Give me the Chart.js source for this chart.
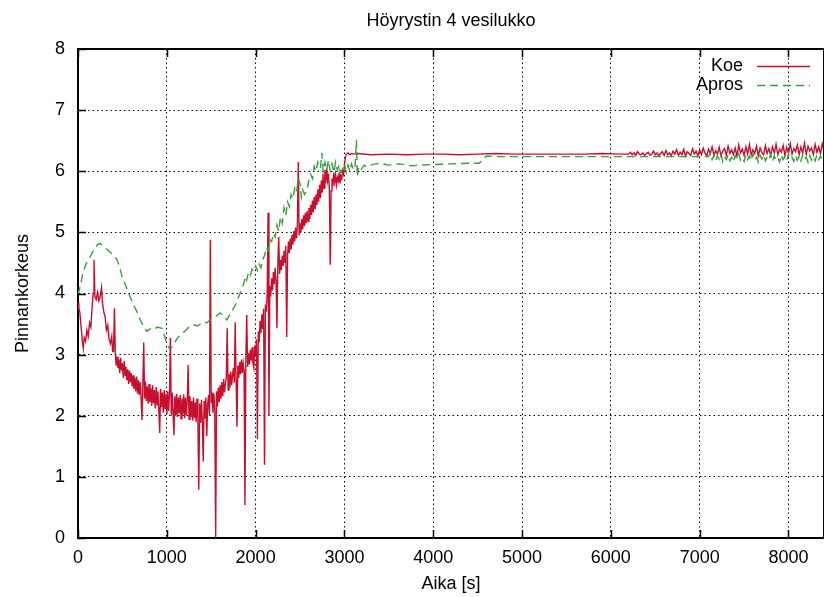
<!DOCTYPE html>
<html>
<head>
<meta charset="utf-8">
<script src="https://cdn.jsdelivr.net/npm/chart.js@4"></script>
<style>
  html, body { margin: 0; padding: 0; background: #fff; }
  #wrap { width: 824px; height: 597px; }
</style>
</head>
<body>
<div id="wrap"><canvas id="chart"></canvas></div>
<script>
const koeTime = [
  0, 10, 20, 35, 50, 60, 70, 85, 100, 115, 130, 145, 160, 170, 180, 190, 205, 220, 235, 250,
  265, 275, 290, 305, 320, 335, 350, 365, 380, 390,
  400, 410, 420, 430, 440, 450, 460, 470, 480, 490, 500, 510, 520, 530, 540, 550, 560, 570, 580, 590,
  600, 610, 620, 630, 640, 650, 660, 670, 680, 690, 700, 710, 720, 730, 740, 750, 760, 770, 780, 790,
  800, 810, 820, 830, 840, 850, 860, 870, 880, 890, 900, 910, 920, 930, 940, 950, 960, 970, 980, 990,
  1000, 1010, 1020, 1030, 1040, 1050, 1060, 1070, 1080, 1090, 1100, 1110, 1120, 1130, 1140, 1150, 1160, 1170, 1180, 1190,
  1200, 1210, 1220, 1230, 1240, 1250, 1260, 1270, 1280, 1290, 1300, 1310, 1320, 1330, 1340, 1350, 1360, 1370, 1380, 1390,
  1400, 1410, 1420, 1430, 1440, 1450, 1460, 1470, 1480, 1490, 1500, 1510, 1520, 1530, 1540, 1550, 1560, 1570, 1580, 1590,
  1600, 1610, 1620, 1630, 1640, 1650, 1660, 1670, 1680, 1690, 1700, 1710, 1720, 1730, 1740, 1750, 1760, 1770, 1780, 1790,
  1800, 1810, 1820, 1830, 1840, 1850, 1860, 1870, 1880, 1890, 1900, 1910, 1920, 1930, 1940, 1950, 1960, 1970, 1980, 1990,
  2000, 2010, 2020, 2030, 2040, 2050, 2060, 2070, 2080, 2090, 2100, 2110, 2120, 2130, 2140, 2150, 2160, 2170, 2180, 2190,
  2200, 2210, 2220, 2230, 2240, 2250, 2260, 2270, 2280, 2290, 2300, 2310, 2320, 2330, 2340, 2350, 2360, 2370, 2380, 2390,
  2400, 2410, 2420, 2430, 2440, 2450, 2460, 2470, 2480, 2490, 2500, 2510, 2520, 2530, 2540, 2550, 2560, 2570, 2580, 2590,
  2600, 2610, 2620, 2630, 2640, 2650, 2660, 2670, 2680, 2690, 2700, 2710, 2720, 2730, 2740, 2750, 2760, 2770, 2780, 2790,
  2800, 2810, 2820, 2830, 2840, 2850, 2860, 2870, 2880, 2890, 2900, 2910, 2920, 2930, 2940, 2950, 2960, 2970, 2980, 2990,
  3000, 3010, 3020, 3040, 3060, 3080, 3100, 3150, 3300, 3500, 3700, 3900, 4100, 4300, 4500, 4700, 4900, 5100, 5300, 5500,
  5700, 5900, 6100,
  6200, 6220, 6240, 6260, 6280, 6300, 6320, 6340, 6360, 6380,
  6400, 6420, 6440, 6460, 6480, 6500, 6520, 6540, 6560, 6580,
  6600, 6620, 6640, 6660, 6680, 6700, 6720, 6740, 6760, 6780,
  6800, 6820, 6840, 6860, 6880, 6900, 6920, 6940, 6960, 6980,
  7000, 7020, 7040, 7060, 7080, 7100, 7120, 7140, 7160, 7180,
  7200, 7220, 7240, 7260, 7280, 7300, 7320, 7340, 7360, 7380,
  7400, 7420, 7440, 7460, 7480, 7500, 7520, 7540, 7560, 7580,
  7600, 7620, 7640, 7660, 7680, 7700, 7720, 7740, 7760, 7780,
  7800, 7820, 7840, 7860, 7880, 7900, 7920, 7940, 7960, 7980,
  8000, 8020, 8040, 8060, 8080, 8100, 8120, 8140, 8160, 8180,
  8200, 8220, 8240, 8260, 8280, 8300, 8320, 8340, 8360, 8380,
  8400
];
const koeLevel = [
  3.85, 3.75, 3.70, 3.45, 3.20, 3.10, 3.28, 3.22, 3.40, 3.30, 3.52, 3.45, 3.80, 4.00, 4.55, 3.95, 3.90, 4.02, 3.88, 3.95,
  4.10, 3.85, 3.70, 3.62, 3.40, 3.48, 3.25, 3.18, 3.30, 3.05,
  3.05, 3.76, 3.02, 2.82, 2.97, 2.78, 2.92, 2.70, 2.95, 2.74, 2.86, 2.62, 2.90, 2.66, 2.80, 2.58, 2.76, 2.52, 2.74, 2.55,
  2.70, 2.48, 2.66, 2.44, 2.62, 2.40, 2.64, 2.36, 2.58, 2.34, 2.55, 2.30, 1.93, 2.50, 3.20, 2.28, 2.56, 2.24, 2.48, 2.20,
  2.52, 2.22, 2.45, 2.16, 2.50, 2.20, 2.42, 2.12, 2.47, 2.18, 2.40, 2.10, 1.72, 2.44, 2.14, 2.38, 2.05, 2.42, 2.12, 2.36,
  2.02, 2.40, 2.08, 2.34, 3.27, 2.00, 2.38, 2.06, 1.68, 2.32, 2.00, 2.36, 1.98, 2.30, 2.04, 2.34, 1.95, 2.28, 2.02, 2.35,
  1.96, 2.30, 2.00, 2.26, 2.83, 1.94, 2.32, 1.98, 2.24, 1.92, 2.30, 1.96, 2.22, 1.90, 2.28, 1.95, 0.79, 2.20, 1.88, 2.26,
  1.92, 1.25, 2.24, 1.95, 2.30, 1.67, 2.18, 2.34, 2.00, 4.88, 2.20, 2.38, 2.05, 2.36, 2.12, 0.00, 2.40, 2.15, 2.46, 2.22,
  2.50, 2.28, 2.55, 2.32, 2.60, 2.38, 2.52, 2.64, 3.43, 2.42, 2.68, 2.46, 2.72, 2.50, 2.66, 2.78, 2.54, 3.53, 2.60, 1.82,
  2.82, 2.62, 2.88, 2.68, 2.92, 2.70, 2.86, 2.74, 0.54, 2.96, 3.65, 2.80, 3.02, 2.84, 3.08, 2.90, 3.12, 2.86, 2.78, 3.15,
  3.05, 3.25, 1.62, 3.38, 3.20, 3.55, 3.35, 3.66, 3.42, 3.75, 1.20, 3.82, 3.70, 3.98, 5.32, 2.00, 4.12, 3.95, 4.25, 4.05,
  4.35, 4.15, 4.42, 4.22, 3.43, 4.48, 4.93, 4.32, 4.55, 4.38, 4.62, 4.45, 4.70, 4.50, 4.78, 3.29, 4.62, 4.85, 4.66, 4.90,
  4.72, 4.96, 4.80, 5.02, 4.85, 5.08, 4.90, 5.12, 6.15, 4.95, 5.15, 5.00, 5.22, 5.05, 5.28, 5.10, 5.32, 5.15, 5.35, 5.18,
  5.40, 5.22, 5.45, 5.28, 5.52, 5.33, 5.58, 5.38, 5.62, 5.45, 5.70, 5.50, 5.78, 5.56, 5.85, 5.65, 5.95, 5.72, 6.02, 5.80,
  6.05, 5.85, 5.96, 5.72, 4.47, 5.68, 5.88, 5.76, 5.98, 5.82, 5.94, 5.78, 5.90, 5.84, 5.96, 5.80, 5.92, 5.88, 6.00, 5.95,
  6.10, 6.22, 6.28, 6.30, 6.27, 6.29, 6.28, 6.29, 6.27, 6.28, 6.27, 6.28, 6.28, 6.27, 6.28, 6.29, 6.28, 6.28, 6.28, 6.28,
  6.28, 6.29, 6.28,
  6.28, 6.31, 6.27, 6.30, 6.26, 6.32, 6.28, 6.27, 6.30, 6.26,
  6.29, 6.31, 6.26, 6.28, 6.33, 6.27, 6.30, 6.25, 6.29, 6.32,
  6.26, 6.34, 6.27, 6.30, 6.25, 6.33, 6.28, 6.35, 6.26, 6.31,
  6.27, 6.36, 6.25, 6.32, 6.29, 6.26, 6.37, 6.28, 6.33, 6.25,
  6.35, 6.27, 6.38, 6.30, 6.25, 6.36, 6.29, 6.40, 6.26, 6.34,
  6.28, 6.39, 6.25, 6.33, 6.37, 6.26, 6.41, 6.29, 6.35, 6.27,
  6.38, 6.25, 6.43, 6.30, 6.36, 6.26, 6.40, 6.28, 6.44, 6.27,
  6.35, 6.29, 6.41, 6.25, 6.38, 6.31, 6.27, 6.42, 6.29, 6.37,
  6.26, 6.40, 6.30, 6.44, 6.27, 6.36, 6.31, 6.42, 6.26, 6.39,
  6.29, 6.45, 6.28, 6.37, 6.32, 6.43, 6.27, 6.40, 6.30, 6.46,
  6.28, 6.41, 6.33, 6.38, 6.27, 6.44, 6.31, 6.40, 6.29, 6.45,
  6.34
];

// Apros (simulated level)
const aprosTime = [
  0, 30, 56, 90, 135, 180, 220, 250, 290, 330, 360, 400, 440, 470, 495, 540, 585, 630, 665, 700,
  740, 775, 810, 850, 890, 945, 975, 1000, 1035, 1070, 1110, 1150, 1200, 1250, 1295, 1350, 1400, 1450, 1500, 1550,
  1600, 1640, 1675, 1720, 1760, 1790, 1810, 1830, 1850, 1870, 1885, 1900, 1920, 1940, 1960, 1980, 2000, 2020, 2040, 2060,
  2080, 2100, 2120, 2140, 2160, 2180, 2200, 2220, 2240, 2260, 2280, 2300, 2320, 2340, 2360, 2380, 2400, 2420, 2440, 2460,
  2480, 2500, 2515, 2530, 2550, 2575, 2600, 2620, 2640, 2660, 2680, 2700, 2730, 2745, 2760, 2780, 2800, 2820, 2840, 2860,
  2880, 2900, 2920, 2940, 2960, 2981, 3000, 3020, 3040, 3060, 3080, 3100, 3120, 3135, 3145, 3160, 3190, 3220, 3250, 3300,
  3350, 3400, 3500, 3620, 3750, 3850, 4000, 4200, 4400, 4520, 4560, 4600, 4700, 5000, 6000, 7000,
  7100, 7120, 7140, 7160, 7180, 7200, 7220, 7240, 7260, 7280,
  7300, 7320, 7340, 7360, 7380, 7400, 7420, 7440, 7460, 7480,
  7500, 7520, 7540, 7560, 7580, 7600, 7620, 7640, 7660, 7680,
  7700, 7720, 7740, 7760, 7780, 7800, 7820, 7840, 7860, 7880,
  7900, 7920, 7940, 7960, 7980, 8000, 8020, 8040, 8060, 8080,
  8100, 8120, 8140, 8160, 8180, 8200, 8220, 8240, 8260, 8280,
  8300, 8320, 8340, 8360, 8380, 8400
];
const aprosLevel = [
  3.98, 4.15, 4.34, 4.48, 4.60, 4.72, 4.80, 4.82, 4.76, 4.72, 4.68, 4.62, 4.55, 4.42, 4.28, 4.12, 3.95, 3.80, 3.70, 3.57,
  3.45, 3.38, 3.42, 3.40, 3.45, 3.43, 3.30, 3.19, 3.08, 3.15, 3.25, 3.32, 3.38, 3.45, 3.49, 3.47, 3.53, 3.52, 3.58, 3.62,
  3.68, 3.62, 3.57, 3.68, 3.78, 3.86, 3.95, 4.02, 4.10, 4.18, 4.28, 4.22, 4.35, 4.30, 4.40, 4.36, 4.45, 4.38, 4.48, 4.42,
  4.55, 4.62, 4.75, 4.70, 4.88, 4.85, 4.98, 4.92, 5.12, 5.02, 5.25, 5.15, 5.40, 5.28, 5.50, 5.42, 5.62, 5.55, 5.72, 5.65,
  5.88, 5.80, 5.58, 5.70, 5.62, 5.68, 5.85, 5.95, 5.88, 6.08, 6.00, 6.15, 6.05, 6.30, 6.00, 6.15, 6.02, 6.18, 6.00, 6.12,
  5.98, 6.15, 6.02, 6.10, 5.98, 6.05, 6.12, 5.98, 6.10, 6.00, 6.12, 6.02, 6.08, 6.51, 5.91, 6.08, 6.03, 6.10, 6.07, 6.10,
  6.12, 6.13, 6.10, 6.12, 6.09, 6.10, 6.11, 6.12, 6.13, 6.13, 6.20, 6.25, 6.24, 6.24, 6.24, 6.24,
  6.24, 6.30, 6.19, 6.26, 6.17, 6.25, 6.20, 6.28, 6.16, 6.24,
  6.19, 6.27, 6.17, 6.23, 6.15, 6.26, 6.20, 6.28, 6.18, 6.22,
  6.16, 6.27, 6.19, 6.25, 6.17, 6.29, 6.18, 6.23, 6.15, 6.26,
  6.20, 6.27, 6.17, 6.24, 6.19, 6.28, 6.16, 6.25, 6.18, 6.22,
  6.15, 6.27, 6.19, 6.24, 6.17, 6.28, 6.20, 6.23, 6.16, 6.26,
  6.18, 6.25, 6.17, 6.27, 6.19, 6.23, 6.15, 6.26, 6.18, 6.24,
  6.17, 6.27, 6.19, 6.25, 6.18, 6.22
];

const xTicks = [0, 1000, 2000, 3000, 4000, 5000, 6000, 7000, 8000];
const yTicks = [0, 1, 2, 3, 4, 5, 6, 7, 8];

const koeColor = '#c8102e';
const aprosColor = '#3a9e3a';
const FONT = "'Liberation Sans', Arial, sans-serif";

function toPoints(xs, ys) {
  return xs.map((x, i) => ({ x: x, y: ys[i] }));
}

// gnuplot style frame: top border, inner tic marks, legend at top right
const gnuplotFrame = {
  id: 'gnuplotFrame',
  afterDraw(chart) {
    const ctx = chart.ctx;
    const a = chart.chartArea;
    const xs = chart.scales.x, ys = chart.scales.y;
    ctx.save();
    ctx.strokeStyle = '#000';
    ctx.lineWidth = 2;
    ctx.beginPath();
    ctx.moveTo(a.left, a.top);
    ctx.lineTo(a.right, a.top);
    ctx.lineTo(a.right, a.bottom);
    ctx.stroke();

    ctx.lineWidth = 1.5;
    ctx.beginPath();
    xTicks.forEach(t => {
      const px = Math.round(xs.getPixelForValue(t)) + 0.5;
      ctx.moveTo(px, a.bottom);
      ctx.lineTo(px, a.bottom - 8);
      ctx.moveTo(px, a.top);
      ctx.lineTo(px, a.top + 8);
    });
    yTicks.forEach(t => {
      const py = Math.round(ys.getPixelForValue(t)) + 0.5;
      ctx.moveTo(a.left, py);
      ctx.lineTo(a.left + 8, py);
    });
    ctx.stroke();

    // legend
    ctx.font = '18px ' + FONT;
    ctx.fillStyle = '#000';
    ctx.textAlign = 'right';
    ctx.textBaseline = 'middle';
    ctx.fillText('Koe', 743, 66);
    ctx.fillText('Apros', 743, 85);
    ctx.lineWidth = 1.3;
    ctx.strokeStyle = koeColor;
    ctx.beginPath();
    ctx.moveTo(757, 66.5);
    ctx.lineTo(810, 66.5);
    ctx.stroke();
    ctx.strokeStyle = aprosColor;
    ctx.setLineDash([8, 5]);
    ctx.beginPath();
    ctx.moveTo(757, 85.5);
    ctx.lineTo(810, 85.5);
    ctx.stroke();
    ctx.restore();
  }
};

new Chart(document.getElementById('chart').getContext('2d'), {
  type: 'line',
  data: {
    datasets: [
      {
        label: 'Apros',
        data: toPoints(aprosTime, aprosLevel),
        borderColor: aprosColor,
        borderWidth: 1.4,
        borderDash: [8, 5],
        pointRadius: 0,
        tension: 0,
        fill: false
      },
      {
        label: 'Koe',
        data: toPoints(koeTime, koeLevel),
        borderColor: koeColor,
        borderWidth: 1.4,
        pointRadius: 0,
        tension: 0,
        fill: false
      }
    ]
  },
  plugins: [gnuplotFrame],
  options: {
    responsive: true,
    maintainAspectRatio: false,
    animation: false,
    layout: { padding: 0 },
    plugins: {
      legend: { display: false },
      tooltip: { enabled: false },
      title: {
        display: true,
        text: 'Höyrystin 4 vesilukko',
        fullSize: false,
        color: '#000',
        font: { family: FONT, size: 18, weight: 'normal', lineHeight: 1.2 },
        padding: { top: 10, bottom: 17.4 }
      }
    },
    scales: {
      x: {
        type: 'linear',
        min: 0,
        max: 8400,
        afterFit: s => { s.height = 59; },
        afterBuildTicks: s => { s.ticks = xTicks.map(v => ({ value: v })); },
        ticks: {
          color: '#000',
          padding: 9,
          maxRotation: 0,
          callback: v => String(v),
          font: { family: FONT, size: 18 }
        },
        grid: { color: '#000', lineWidth: 1, drawTicks: false },
        border: { display: true, color: '#000', width: 2, dash: [1.5, 3] },
        title: {
          display: true,
          text: 'Aika [s]',
          color: '#000',
          font: { family: FONT, size: 18 },
          padding: { top: 0, bottom: 2 }
        }
      },
      y: {
        min: 0,
        max: 8,
        afterFit: s => { s.width = 78; },
        afterBuildTicks: s => { s.ticks = yTicks.map(v => ({ value: v })); },
        ticks: {
          color: '#000',
          padding: 13,
          callback: v => String(v),
          font: { family: FONT, size: 18 }
        },
        grid: { color: '#000', lineWidth: 1, drawTicks: false },
        border: { display: true, color: '#000', width: 2, dash: [1.5, 3] },
        title: {
          display: true,
          text: 'Pinnankorkeus',
          color: '#000',
          font: { family: FONT, size: 18 },
          padding: { top: 12, bottom: 0 }
        }
      }
    }
  }
});
</script>
</body>
</html>
